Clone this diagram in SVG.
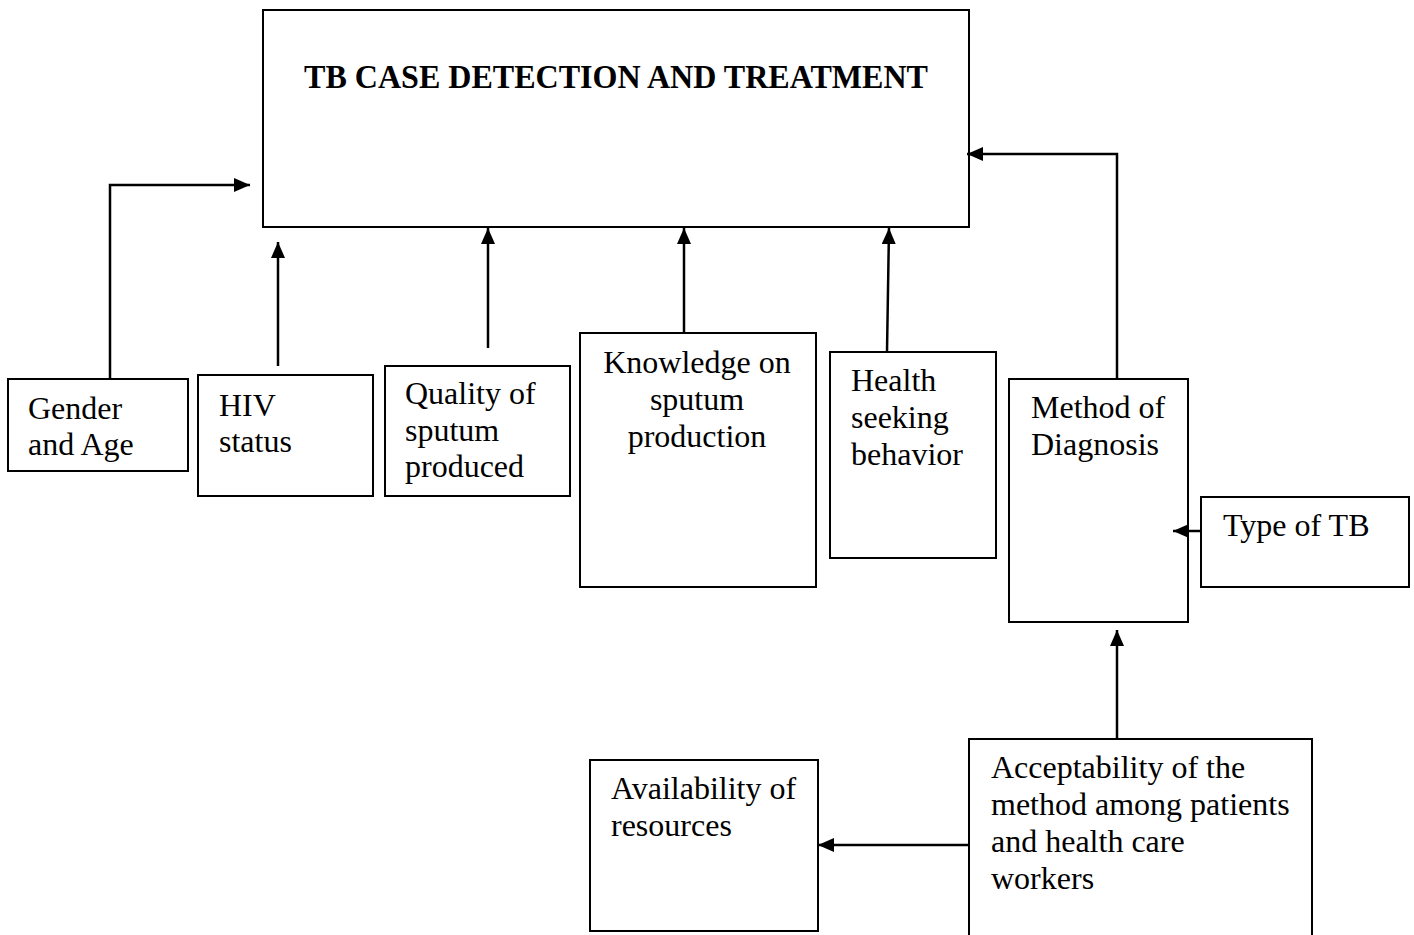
<svg xmlns="http://www.w3.org/2000/svg" width="1414" height="935" viewBox="0 0 1414 935">
<defs>
<marker id="ah" markerWidth="16" markerHeight="14" refX="16" refY="7" orient="auto" markerUnits="userSpaceOnUse">
<path d="M0,0 L16,7 L0,14 Z" fill="#000"/>
</marker>
<style>
.box{fill:#fff;stroke:#000;stroke-width:2}
.t{font-family:"Liberation Serif","Times New Roman",serif;font-size:32px;fill:#000}
.c{fill:none;stroke:#000;stroke-width:2.5;marker-end:url(#ah)}
</style>
</defs>
<rect width="1414" height="935" fill="#fff"/>
<g id="main">
<rect class="box" x="263" y="10" width="706" height="217"/>
<text x="304" y="88" font-family="Liberation Serif,serif" font-weight="bold" font-size="33" textLength="624" lengthAdjust="spacingAndGlyphs">TB CASE DETECTION AND TREATMENT</text>
</g>
<g id="gender">
<rect class="box" x="8" y="379" width="180" height="92"/>
<text class="t" x="28" y="419">Gender</text>
<text class="t" x="28" y="455">and Age</text>
</g>
<g id="hiv">
<rect class="box" x="198" y="375" width="175" height="121"/>
<text class="t" x="219" y="416">HIV</text>
<text class="t" x="219" y="452">status</text>
</g>
<g id="quality">
<rect class="box" x="385" y="366" width="185" height="130"/>
<text class="t" x="405" y="404">Quality of</text>
<text class="t" x="405" y="441">sputum</text>
<text class="t" x="405" y="477">produced</text>
</g>
<g id="knowledge">
<rect class="box" x="580" y="333" width="236" height="254"/>
<text class="t" x="697" y="373" text-anchor="middle">Knowledge on</text>
<text class="t" x="697" y="410" text-anchor="middle">sputum</text>
<text class="t" x="697" y="447" text-anchor="middle">production</text>
</g>
<g id="health">
<rect class="box" x="830" y="352" width="166" height="206"/>
<text class="t" x="851" y="391">Health</text>
<text class="t" x="851" y="428">seeking</text>
<text class="t" x="851" y="465">behavior</text>
</g>
<g id="method">
<rect class="box" x="1009" y="379" width="179" height="243"/>
<text class="t" x="1031" y="418">Method of</text>
<text class="t" x="1031" y="455">Diagnosis</text>
</g>
<g id="type">
<rect class="box" x="1201" y="497" width="208" height="90"/>
<text class="t" x="1223" y="536">Type of TB</text>
</g>
<g id="accept">
<rect class="box" x="969" y="739" width="343" height="200"/>
<text class="t" x="991" y="778">Acceptability of the</text>
<text class="t" x="991" y="815">method among patients</text>
<text class="t" x="991" y="852">and health care</text>
<text class="t" x="991" y="889">workers</text>
</g>
<g id="avail">
<rect class="box" x="590" y="760" width="228" height="171"/>
<text class="t" x="611" y="799">Availability of</text>
<text class="t" x="611" y="836">resources</text>
</g>
<g id="connectors">
<path class="c" d="M110,379 V185 H250"/>
<path class="c" d="M278,366 V242"/>
<path class="c" d="M488,348 V228"/>
<path class="c" d="M684,333 V228"/>
<path class="c" d="M887,352 L889,228"/>
<path class="c" d="M1117,379 V154 H967"/>
<path class="c" d="M1201,531 H1173"/>
<path class="c" d="M1117,739 V630"/>
<path class="c" d="M969,845 H818"/>
</g>
</svg>
